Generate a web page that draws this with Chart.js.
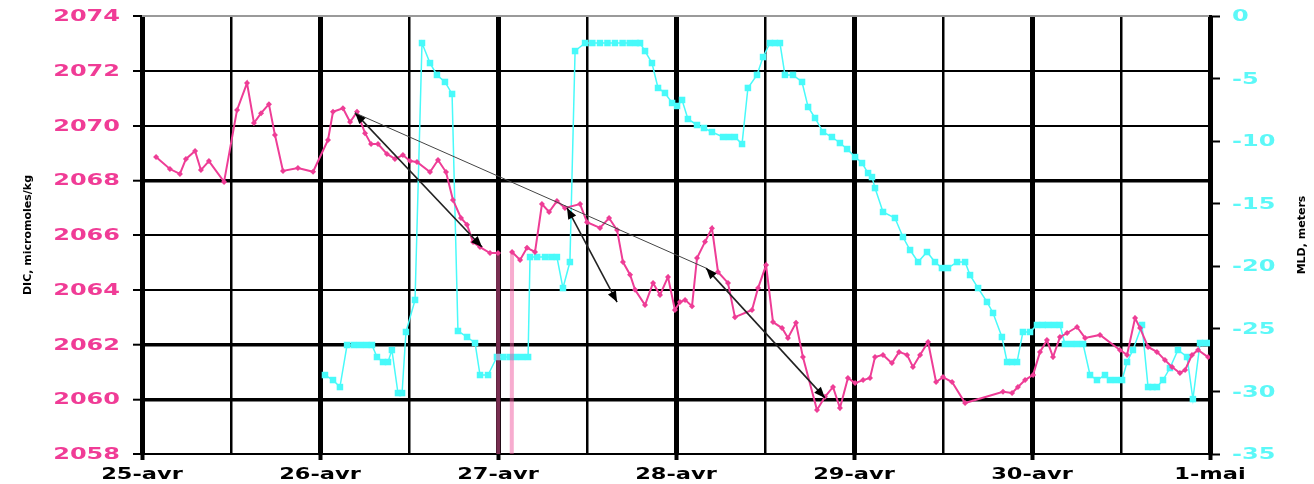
<!DOCTYPE html>
<html>
<head>
<meta charset="utf-8">
<script src="https://cdn.jsdelivr.net/npm/chart.js@4.4.1/dist/chart.umd.min.js"></script>
<style>
    html, body { margin: 0; padding: 0; background: #fff; }
    canvas { display: block; }
</style>
</head>
<body>
<canvas id="grafica" width="1314" height="484"></canvas>
<script>
// ejes
const dias = [25, 26, 27, 28, 29, 30, 31];
const etiquetasDias = ["25-avr", "26-avr", "27-avr", "28-avr", "29-avr", "30-avr", "1-mai"];
const ticksDIC = [2058, 2060, 2062, 2064, 2066, 2068, 2070, 2072, 2074];
const ticksMLD = [0, -5, -10, -15, -20, -25, -30, -35];
const tituloDIC = "DIC, micromoles/kg";
const tituloMLD = "MLD, meters";

// DIC (jour décimal, micromoles/kg)
const dicTiempo = [
    25.079, 25.157, 25.213, 25.247, 25.298, 25.331, 25.376, 25.461, 25.534, 25.590,
    25.629, 25.669, 25.713, 25.747, 25.792, 25.876, 25.961, 26.045, 26.073, 26.129,
    26.169, 26.208, 26.253, 26.287, 26.326, 26.376, 26.421, 26.466, 26.506, 26.545,
    26.618, 26.663, 26.708, 26.747, 26.792, 26.826, 26.860, 26.899, 26.955, 27.000,
    27.006, 27.073, 27.079, 27.124, 27.163, 27.208, 27.247, 27.287, 27.331, 27.376,
    27.461, 27.500, 27.573, 27.624, 27.669, 27.702, 27.742, 27.770, 27.826, 27.871,
    27.910, 27.955, 27.994, 28.022, 28.051, 28.090, 28.118, 28.163, 28.202, 28.236,
    28.292, 28.331, 28.427, 28.461, 28.506, 28.545, 28.596, 28.629, 28.674, 28.713,
    28.792, 28.837, 28.882, 28.921, 28.966, 29.006, 29.051, 29.090, 29.118, 29.163,
    29.213, 29.253, 29.298, 29.331, 29.371, 29.416, 29.461, 29.500, 29.551, 29.624,
    29.837, 29.888, 29.921, 29.961, 30.006, 30.045, 30.084, 30.118, 30.157, 30.197,
    30.253, 30.298, 30.382, 30.494, 30.534, 30.579, 30.607, 30.652, 30.702, 30.747,
    30.787, 30.831, 30.860, 30.899, 30.933, 30.989
];
const dicValor = [
    2068.85, 2068.41, 2068.23, 2068.78, 2069.07, 2068.37, 2068.70, 2067.94, 2070.57, 2071.55,
    2070.09, 2070.45, 2070.78, 2069.65, 2068.34, 2068.45, 2068.31, 2069.47, 2070.50, 2070.63,
    2070.13, 2070.50, 2069.72, 2069.32, 2069.32, 2068.96, 2068.78, 2068.92, 2068.70, 2068.67,
    2068.30, 2068.74, 2068.30, 2067.28, 2066.62, 2066.37, 2065.74, 2065.56, 2065.34, 2065.34,
    2040.00, 2040.00, 2065.38, 2065.09, 2065.53, 2065.38, 2067.13, 2066.84, 2067.24, 2066.99,
    2067.13, 2066.47, 2066.26, 2066.62, 2066.18, 2065.01, 2064.55, 2064.00, 2063.44, 2064.25,
    2063.81, 2064.47, 2063.26, 2063.55, 2063.63, 2063.40, 2065.16, 2065.75, 2066.25, 2064.65,
    2064.25, 2063.00, 2063.26, 2064.06, 2064.90, 2062.82, 2062.60, 2062.24, 2062.79, 2061.54,
    2059.61, 2060.09, 2060.45, 2059.68, 2060.78, 2060.59, 2060.70, 2060.78, 2061.54, 2061.62,
    2061.32, 2061.73, 2061.62, 2061.18, 2061.62, 2062.09, 2060.63, 2060.81, 2060.63, 2059.86,
    2060.27, 2060.23, 2060.45, 2060.70, 2060.89, 2061.73, 2062.16, 2061.54, 2062.27, 2062.42,
    2062.64, 2062.24, 2062.35, 2061.80, 2061.62, 2062.97, 2062.60, 2061.91, 2061.73, 2061.43,
    2061.18, 2060.96, 2061.07, 2061.62, 2061.80, 2061.54
];

// MLD (jour décimal, mètres)
const mldTiempo = [
    26.028, 26.073, 26.112, 26.152, 26.190, 26.225, 26.260, 26.292, 26.320, 26.354,
    26.382, 26.404, 26.438, 26.461, 26.483, 26.534, 26.573, 26.618, 26.657, 26.702,
    26.742, 26.775, 26.826, 26.871, 26.899, 26.944, 26.994, 27.030, 27.067, 27.100,
    27.135, 27.169, 27.180, 27.220, 27.264, 27.300, 27.331, 27.365, 27.404, 27.433,
    27.489, 27.530, 27.573, 27.615, 27.657, 27.700, 27.740, 27.775, 27.798, 27.826,
    27.865, 27.899, 27.938, 27.978, 28.006, 28.034, 28.067, 28.118, 28.157, 28.202,
    28.264, 28.298, 28.331, 28.371, 28.404, 28.455, 28.489, 28.528, 28.556, 28.584,
    28.612, 28.657, 28.708, 28.742, 28.781, 28.826, 28.876, 28.921, 28.961, 29.006,
    29.045, 29.079, 29.101, 29.118, 29.163, 29.230, 29.275, 29.315, 29.360, 29.410,
    29.455, 29.494, 29.528, 29.579, 29.624, 29.652, 29.697, 29.747, 29.781, 29.831,
    29.860, 29.888, 29.916, 29.949, 29.989, 30.028, 30.060, 30.090, 30.124, 30.157,
    30.185, 30.220, 30.253, 30.287, 30.326, 30.365, 30.410, 30.438, 30.472, 30.506,
    30.534, 30.567, 30.618, 30.652, 30.677, 30.702, 30.736, 30.775, 30.820, 30.871,
    30.904, 30.944, 30.972, 31.000
];
const mldValor = [
    -28.69, -29.09, -29.65, -26.29, -26.29, -26.29, -26.29, -26.29, -27.25, -27.65,
    -27.65, -26.69, -30.13, -30.13, -25.25, -22.69, -2.16, -3.76, -4.71, -5.27,
    -6.23, -25.17, -25.65, -26.13, -28.69, -28.69, -27.25, -27.25, -27.25, -27.25,
    -27.25, -27.25, -19.26, -19.26, -19.26, -19.26, -19.26, -21.74, -19.66, -2.80,
    -2.16, -2.16, -2.16, -2.16, -2.16, -2.16, -2.16, -2.16, -2.16, -2.80,
    -3.76, -5.75, -6.15, -6.95, -7.19, -6.71, -8.23, -8.71, -8.95, -9.27,
    -9.67, -9.67, -9.67, -10.23, -5.75, -4.71, -3.28, -2.16, -2.16, -2.16,
    -4.71, -4.71, -5.27, -7.27, -8.15, -9.27, -9.67, -10.15, -10.63, -11.27,
    -11.75, -12.55, -12.87, -13.75, -15.66, -16.14, -17.66, -18.70, -19.66, -18.86,
    -19.66, -20.14, -20.14, -19.66, -19.66, -20.70, -21.74, -22.85, -23.73, -25.65,
    -27.65, -27.65, -27.65, -25.25, -25.25, -24.69, -24.69, -24.69, -24.69, -24.69,
    -26.21, -26.21, -26.21, -26.21, -28.69, -29.09, -28.69, -29.09, -29.09, -29.09,
    -27.65, -26.69, -24.69, -29.65, -29.65, -29.65, -29.09, -28.13, -26.69, -27.25,
    -30.61, -26.13, -26.13, -26.13
];

// flèches (jour, DIC) début -> fin ; pointes: 2 = deux bouts, 0 = simple trait
const flechaT0 = [26.197, 26.197, 27.388, 28.169];
const flechaV0 = [2070.46, 2070.46, 2066.99, 2064.79];
const flechaT1 = [26.910, 28.169, 27.669, 28.837];
const flechaV1 = [2065.56, 2064.79, 2063.55, 2060.05];
const flechaPuntas = [2, 0, 2, 2];

const ESTIRAR = 1.5;

function textoAncho(ctx, txt, x, y, align) {
    ctx.save();
    ctx.translate(x, y);
    ctx.scale(ESTIRAR, 1);
    ctx.textAlign = align;
    ctx.fillText(txt, 0, 0);
    ctx.restore();
}

function punta(ctx, xa, ya, xb, yb) {
    const ang = Math.atan2(yb - ya, xb - xa);
    const L = 11, W = 4.5;
    ctx.beginPath();
    ctx.moveTo(xb, yb);
    ctx.lineTo(xb - L * Math.cos(ang) + W * Math.sin(ang), yb - L * Math.sin(ang) - W * Math.cos(ang));
    ctx.lineTo(xb - L * Math.cos(ang) - W * Math.sin(ang), yb - L * Math.sin(ang) + W * Math.cos(ang));
    ctx.closePath();
    ctx.fill();
}

const flechasPlugin = {
    id: "flechas",
    afterDatasetsDraw(chart) {
        const ctx = chart.ctx;
        const sx = chart.scales.x, sy = chart.scales.y;
        ctx.save();
        flechaT0.forEach((t, i) => {
            const x0 = sx.getPixelForValue(t), y0 = sy.getPixelForValue(flechaV0[i]);
            const x1 = sx.getPixelForValue(flechaT1[i]), y1 = sy.getPixelForValue(flechaV1[i]);
            const doble = flechaPuntas[i] === 2;
            ctx.strokeStyle = doble ? "#222" : "#444";
            ctx.fillStyle = "#000";
            ctx.lineWidth = doble ? 1.6 : 1;
            ctx.beginPath();
            ctx.moveTo(x0, y0);
            ctx.lineTo(x1, y1);
            ctx.stroke();
            if (doble) {
                punta(ctx, x0, y0, x1, y1);
                punta(ctx, x1, y1, x0, y0);
            }
        });
        ctx.restore();
    },
};

const etiquetasPlugin = {
    id: "etiquetas",
    afterDraw(chart) {
        const ctx = chart.ctx;
        const sx = chart.scales.x, sy = chart.scales.y, sy2 = chart.scales.y2;
        ctx.save();
        ctx.textBaseline = "middle";
        ctx.font = 'bold 16px "DejaVu Sans"';
        ctx.fillStyle = "#f03c96";
        ticksDIC.forEach((v) => textoAncho(ctx, String(v), 120, sy.getPixelForValue(v) + 1, "right"));
        ctx.fillStyle = "#5cf8f8";
        ticksMLD.forEach((v) => textoAncho(ctx, String(v), 1232, sy2.getPixelForValue(v) + 1, "left"));
        ctx.fillStyle = "#000";
        ctx.font = 'bold 15px "DejaVu Sans"';
        dias.forEach((d, i) => textoAncho(ctx, etiquetasDias[i], sx.getPixelForValue(d), 475, "center"));

        // titres des axes
        ctx.font = 'bold 11px "DejaVu Sans"';
        ctx.textAlign = "center";
        const cy = (chart.chartArea.top + chart.chartArea.bottom) / 2;
        ctx.save();
        ctx.translate(28, cy);
        ctx.rotate(-Math.PI / 2);
        ctx.fillText(tituloDIC, 0, 0);
        ctx.restore();
        ctx.save();
        ctx.translate(1302, cy);
        ctx.rotate(-Math.PI / 2);
        ctx.fillText(tituloMLD, 0, 0);
        ctx.restore();
        ctx.restore();
    },
};

const lineasGruesas = [2068, 2062, 2060];

new Chart(document.getElementById("grafica").getContext("2d"), {
    type: "line",
    data: {
        datasets: [
            {
                label: "DIC",
                data: dicTiempo.map((t, i) => ({ x: t, y: dicValor[i] })),
                yAxisID: "y",
                borderColor: "#ee3d96",
                backgroundColor: "#ee3d96",
                borderWidth: 2,
                pointStyle: "rectRot",
                pointRadius: 3,
                pointBorderWidth: 0,
                tension: 0,
                segment: {
                    // tramos fuera de escala (caída bajo 2058)
                    borderColor: (c) => (c.p0.parsed.y < 2058 || c.p1.parsed.y < 2058 ? "rgba(240,90,160,0.5)" : undefined),
                    borderWidth: (c) => (c.p0.parsed.y < 2058 || c.p1.parsed.y < 2058 ? 4 : undefined),
                },
            },
            {
                label: "MLD",
                data: mldTiempo.map((t, i) => ({ x: t, y: mldValor[i] })),
                yAxisID: "y2",
                borderColor: "#48fafa",
                backgroundColor: "#48fafa",
                borderWidth: 1.5,
                pointStyle: "rect",
                pointRadius: 4.6,
                pointBorderWidth: 0,
                tension: 0,
            },
        ],
    },
    options: {
        responsive: false,
        animation: false,
        events: [],
        layout: { padding: { top: 16, left: 0, right: 0, bottom: 0 } },
        plugins: {
            legend: { display: false },
            tooltip: { enabled: false },
        },
        scales: {
            x: {
                type: "linear",
                min: 25,
                max: 31,
                afterFit: (s) => { s.height = 30; },
                ticks: { display: false, stepSize: 0.5 },
                grid: {
                    color: "#000",
                    lineWidth: (c) => (c.tick.value % 1 === 0 ? 5 : 2.5),
                    tickColor: (c) => (c.tick.value % 1 === 0 ? "#000" : "rgba(0,0,0,0)"),
                    tickLength: 6,
                    tickWidth: 4,
                },
                border: { display: true, color: "#000", width: 2 },
            },
            y: {
                position: "left",
                min: 2058,
                max: 2074,
                afterFit: (s) => { s.width = 142; },
                ticks: { display: false, stepSize: 2 },
                grid: {
                    color: (c) => (c.tick.value === 2074 ? "#9a9a9a" : "#000"),
                    lineWidth: (c) => (lineasGruesas.includes(c.tick.value) ? 3.4 : 2),
                    tickColor: "#000",
                    tickLength: 9,
                    tickWidth: 2,
                },
                border: { display: false },
            },
            y2: {
                position: "right",
                min: -35,
                max: 0,
                afterFit: (s) => { s.width = 104; },
                ticks: { display: false, stepSize: 5 },
                grid: {
                    drawOnChartArea: false,
                    tickColor: "#000",
                    tickLength: 10,
                    tickWidth: 2,
                },
                border: { display: true, color: "#000", width: 3 },
            },
        },
    },
    plugins: [flechasPlugin, etiquetasPlugin],
});
</script>
</body>
</html>
